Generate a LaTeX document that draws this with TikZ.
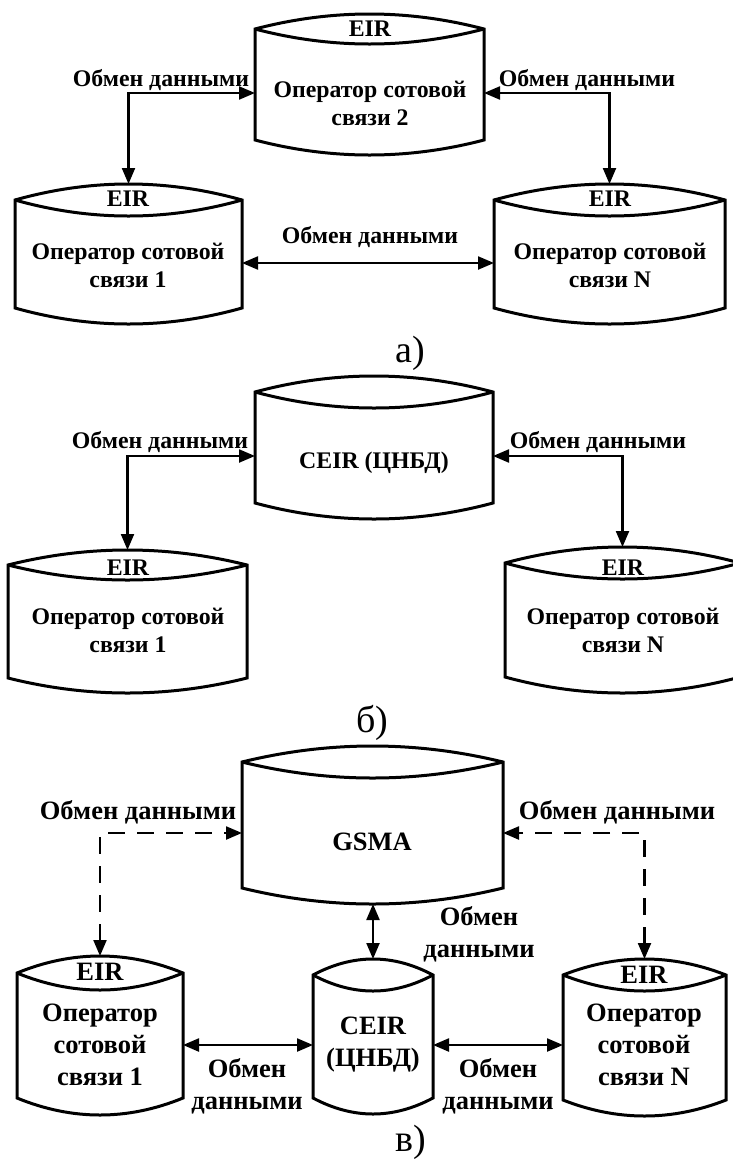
\documentclass[tikz,border=0pt]{standalone}
\usepackage{fontspec}
\setmainfont{Liberation Serif}
\usetikzlibrary{arrows.meta}

% cylinder: name, left, right, top corner, bottom corner, bulge
\newcommand\dbcyl[6]{%
  \node[cylbox, minimum width={(#3-#2)*1pt}, minimum height={(#5-#4)*1pt}]
    (#1) at ({(#2+#3)/2},{(#4+#5)/2}) {};
  \coordinate (#1-top) at ({(#2+#3)/2},{#4-#6});
  \coordinate (#1-bot) at ({(#2+#3)/2},{#5+#6});
  \draw[cylline] (#2,#4)
    .. controls ({#2+(#3-#2)/3},{#4-4*#6/3}) and ({#3-(#3-#2)/3},{#4-4*#6/3}) .. (#3,#4)
    -- (#3,#5)
    .. controls ({#3-(#3-#2)/3},{#5+4*#6/3}) and ({#2+(#3-#2)/3},{#5+4*#6/3}) .. (#2,#5)
    -- cycle;
  \draw[cylline] (#2,#4)
    .. controls ({#2+(#3-#2)/3},{#4+4*#6/3}) and ({#3-(#3-#2)/3},{#4+4*#6/3}) .. (#3,#4);
}

\tikzset{
  cylbox/.style={rectangle, inner sep=0pt, outer sep=0pt},
  cylline/.style={line width=3pt, line join=miter},
  txt/.style={inner sep=0pt, align=center, font=\bfseries\fontsize{23.8}{28}\selectfont},
  txtc/.style={inner sep=0pt, align=center, font=\bfseries\fontsize{26.5}{32}\selectfont},
  caption/.style={inner sep=0pt, font=\fontsize{38}{44}\selectfont},
  link/.style={line width=2.2pt, {Triangle[length=16pt,width=13pt]}-{Triangle[length=16pt,width=13pt]}},
  dlink/.style={link, dash pattern=on 17pt off 12pt},
}

\begin{document}
\begin{tikzpicture}[x=1pt, y=-1pt]
\useasboundingbox (0,0) rectangle (732,1160);

% ---------- a) ----------
\dbcyl{op2a}{255}{484}{29}{140}{15}
\dbcyl{op1a}{15}{242}{200}{308}{16}
\dbcyl{opNa}{494}{725}{200}{308}{16}

\node[txt] (op2a-eir) at (370,29) {EIR};
\node[txt] (op2a-t) at (370,103) {Оператор сотовой\\связи 2};
\node[txt] (op1a-eir) at (128,199) {EIR};
\node[txt] (op1a-t) at (128,265) {Оператор сотовой\\связи 1};
\node[txt] (opNa-eir) at (610,199) {EIR};
\node[txt] (opNa-t) at (610,265) {Оператор сотовой\\связи N};

\draw[link] (op1a-top) |- ([yshift=-8.5pt]op2a.west);
\draw[link] (opNa-top) |- ([yshift=-8.5pt]op2a.east);
\draw[link] ([yshift=-9pt]op1a.east) -- ([yshift=-9pt]opNa.west);

\node[txt] (la1) at (161,80) {Обмен данными};
\node[txt] (la2) at (587,80) {Обмен данными};
\node[txt] (la3) at (370,237) {Обмен данными};
\node[caption] (capa) at (410,353) {а)};

% ---------- b) ----------
\dbcyl{ceirb}{255}{493}{392}{503}{16}
\dbcyl{op1b}{8}{247}{565}{678}{15}
\dbcyl{opNb}{505}{740}{563}{677}{16}

\node[txt] (ceirb-t) at (374,463) {CEIR (ЦНБД)};
\node[txt] (op1b-eir) at (128,568) {EIR};
\node[txt] (op1b-t) at (128,630) {Оператор сотовой\\связи 1};
\node[txt] (opNb-eir) at (623,568) {EIR};
\node[txt] (opNb-t) at (623,630) {Оператор сотовой\\связи N};

\draw[link] (op1b-top) |- ([yshift=-8.5pt]ceirb.west);
\draw[link] (opNb-top) |- ([yshift=-8.5pt]ceirb.east);

\node[txt] (lb1) at (160,442) {Обмен данными};
\node[txt] (lb2) at (598,442) {Обмен данными};
\node[caption] (capb) at (372,723) {б)};

% ---------- c) ----------
\dbcyl{gsma}{242}{503}{762}{888}{16}
\dbcyl{op1c}{17}{183}{973}{1098}{17}
\dbcyl{ceirc}{313}{433}{975}{1098}{16}
\dbcyl{opNc}{563}{726}{975}{1100}{16}

\node[txtc] (gsma-t) at (372,842) {GSMA};
\node[txtc] (op1c-eir) at (100,972) {EIR};
\node[txtc] (op1c-t) at (100,1045) {Оператор\\сотовой\\связи 1};
\node[txtc] (ceirc-t) at (373,1045) {CEIR\\(ЦНБД)};
\node[txtc] (opNc-eir) at (644,975) {EIR};
\node[txtc] (opNc-t) at (644,1045) {Оператор\\сотовой\\связи N};

\draw[dlink] (op1c-top) |- ([yshift=-8pt]gsma.west);
\draw[dlink] (opNc-top) |- ([yshift=-8pt]gsma.east);
\draw[link] (gsma-bot -| ceirc-top) -- (ceirc-top);
\draw[link] ([yshift=-9.5pt]op1c.east) -- ([yshift=-8.5pt]ceirc.west);
\draw[link] ([yshift=-8.5pt]ceirc.east) -- ([yshift=-7.5pt]opNc.west);

\node[txtc] (lc1) at (138,812) {Обмен данными};
\node[txtc] (lc2) at (617,812) {Обмен данными};
\node[txtc] (lc3) at (479,934) {Обмен\\данными};
\node[txtc] (lc4) at (247,1086) {Обмен\\данными};
\node[txtc] (lc5) at (498,1086) {Обмен\\данными};
\node[caption] (capc) at (411,1142) {в)};
\end{tikzpicture}
\end{document}
